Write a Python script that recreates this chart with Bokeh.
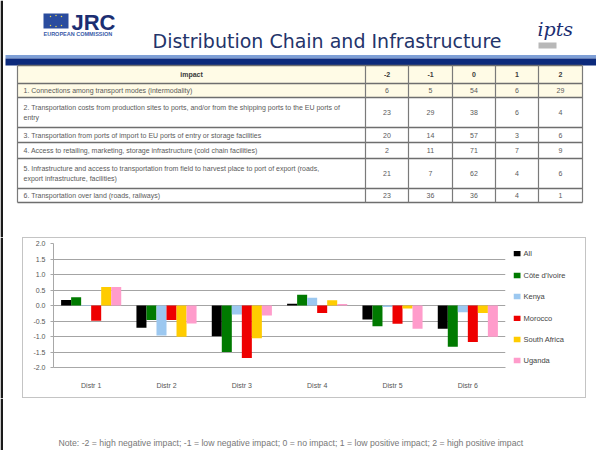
from bokeh.plotting import figure
from bokeh.models import (Range1d, FactorRange, ColumnDataSource, PrintfTickFormatter,
                          FixedTicker)
from bokeh.transform import dodge
from bokeh.layouts import column, row
from bokeh.embed import file_html
from bokeh.resources import INLINE
from bokeh.core.properties import value

# ---------------- data ----------------
slide_title = "Distribution Chain and Infrastructure"
org_name = "JRC"
org_sub = "EUROPEAN COMMISSION"

table_header = ["impact", "-2", "-1", "0", "1", "2"]
row_labels = [
    ["1. Connections among transport modes (intermodality)"],
    ["2. Transportation costs from production sites to ports, and/or from the shipping ports to the EU ports of",
     "entry"],
    ["3. Transportation from ports of import to EU ports of entry or storage facilities"],
    ["4. Access to retailing, marketing, storage infrastructure (cold chain facilities)"],
    ["5. Infrastructure and access to transportation from field to harvest place to port of export (roads,",
     "export infrastructure, facilities)"],
    ["6. Transportation over land (roads, railways)"],
]
row_values = [
    [6, 5, 54, 6, 29],
    [23, 29, 38, 6, 4],
    [20, 14, 57, 3, 6],
    [2, 11, 71, 7, 9],
    [21, 7, 62, 4, 6],
    [23, 36, 36, 4, 1],
]

categories = ["Distr 1", "Distr 2", "Distr 3", "Distr 4", "Distr 5", "Distr 6"]
series_names = ["All", "Côte d'Ivoire", "Kenya", "Morocco", "South Africa", "Uganda"]
all_vals = [0.18, -0.72, -0.99, 0.06, -0.45, -0.75]
civ_vals = [0.27, -0.47, -1.50, 0.35, -0.67, -1.33]
kenya_vals = [0.02, -0.97, -0.29, 0.25, -0.05, -0.22]
morocco_vals = [-0.49, -0.47, -1.69, -0.24, -0.59, -1.18]
safrica_vals = [0.60, -1.01, -1.06, 0.17, -0.10, -0.24]
uganda_vals = [0.60, -0.58, -0.32, 0.05, -0.75, -1.01]
y_ticks = [-2.0, -1.5, -1.0, -0.5, 0.0, 0.5, 1.0, 1.5, 2.0]

footnote = ("Note: -2 = high negative impact; -1 = low negative impact; 0 = no impact; "
            "1 = low positive impact; 2 = high positive impact")

# ---------------- styles ----------------
series_colors = ["#000000", "#007A00", "#9CC8F0", "#EE0000", "#FFCC00", "#FF9CCB"]
FONT = value("Liberation Sans")
NAVY = "#1B2E72"
EDGE = "#1A1A1A"
PAGE_W = 596


def blank(width, height, x0, y0, y1):
    p = figure(width=width, height=height, x_range=Range1d(x0, x0 + width),
               y_range=Range1d(y1, y0), toolbar_location=None, output_backend="svg",
               min_border=0, x_axis_location=None, y_axis_location=None)
    p.grid.visible = False
    p.outline_line_color = None
    return p


# ---------------- header + table (slide pixels) ----------------
top = blank(PAGE_W, 237, 0, 0, 237)
top.quad(left=[0], right=[2.5], top=[0], bottom=[237], fill_color=EDGE, line_color=None)

top.quad(left=[43], right=[68], top=[13], bottom=[28], fill_color="#2A4C9E", line_color=None)
top.scatter(x=[50, 55.5, 61, 50, 61, 55.5], y=[16, 15, 16, 25, 25, 26], size=1.5,
            color="#E8D44D", line_color=None)
top.text(x=[71], y=[22], text=[org_name], text_font=FONT, text_font_style="bold",
         text_font_size=value("22px"), text_color=NAVY, text_baseline="middle")
top.text(x=[43], y=[33.5], text=[org_sub], text_font=FONT, text_font_style="bold",
         text_font_size=value("5.5px"), text_color="#3A5AA8", text_baseline="middle")
top.text(x=[152], y=[40], text=[slide_title], text_font=value("DejaVu Sans"),
         text_font_size=value("19px"), text_color="#24346A", text_baseline="middle")
top.text(x=[537], y=[28], text=["ipts"], text_font=value("DejaVu Serif"),
         text_font_style="italic", text_font_size=value("19px"), text_color=NAVY,
         text_baseline="middle")
top.quad(left=[538], right=[556], top=[42], bottom=[48], fill_color="#9A9A9A",
         line_color=None, fill_alpha=0.7)

# blue band
top.quad(left=[5], right=[PAGE_W], top=[54.5], bottom=[58], fill_color="#7E9FD6", line_color=None)
top.quad(left=[5], right=[PAGE_W], top=[58], bottom=[65], fill_color="#0C2A7C", line_color=None)

col_edges = [17, 365, 408, 452, 495, 538, 582]
row_edges = [65, 83, 97, 127, 142, 158, 188, 202]

top.quad(left=[col_edges[0]], right=[col_edges[-1]], top=[row_edges[0]], bottom=[row_edges[2]],
         fill_color="#FFFBE6", line_color=None)
top.segment(x0=[col_edges[0]] * len(row_edges), x1=[col_edges[-1]] * len(row_edges),
            y0=row_edges, y1=row_edges, line_color="#6E6E6E", line_width=1.5)
top.segment(x0=col_edges, x1=col_edges, y0=[row_edges[0]] * len(col_edges),
            y1=[row_edges[-1]] * len(col_edges), line_color="#7A7A7A", line_width=1.2)

col_centers = [(col_edges[i] + col_edges[i + 1]) / 2 for i in range(len(col_edges) - 1)]
head_y = (row_edges[0] + row_edges[1]) / 2
top.text(x=[191] + col_centers[1:], y=[head_y] * 6, text=table_header, text_font=FONT,
         text_font_style="bold", text_font_size=value("7px"), text_color="#3A3A3A",
         text_align="center", text_baseline="middle")

lab_x, lab_y, lab_t, val_x, val_y, val_t = [], [], [], [], [], []
for i, lines in enumerate(row_labels):
    yc = (row_edges[i + 1] + row_edges[i + 2]) / 2
    n = len(lines)
    for j, ln in enumerate(lines):
        lab_x.append(23)
        lab_y.append(yc + (j - (n - 1) / 2) * 9.5)
        lab_t.append(ln)
    for k, v in enumerate(row_values[i]):
        val_x.append(col_centers[k + 1])
        val_y.append(yc)
        val_t.append(str(v))
top.text(x=lab_x, y=lab_y, text=lab_t, text_font=FONT, text_font_size=value("7px"),
         text_color="#5A5A5A", text_baseline="middle")
top.text(x=val_x, y=val_y, text=val_t, text_font=FONT, text_font_size=value("7px"),
         text_color="#5A5A5A", text_align="center", text_baseline="middle")

# ---------------- bar chart ----------------
src = ColumnDataSource(dict(cat=categories, s0=all_vals, s1=civ_vals, s2=kenya_vals,
                            s3=morocco_vals, s4=safrica_vals, s5=uganda_vals))

chart = figure(width=490, height=159, x_range=FactorRange(factors=categories),
               y_range=Range1d(-2, 2), toolbar_location=None, output_backend="svg",
               min_border_left=30, min_border_right=8, min_border_top=5, min_border_bottom=30)

bw = 0.133
for k in range(6):
    off = (k - 2.5) * bw
    chart.vbar(x=dodge("cat", off, range=chart.x_range), top="s%d" % k, bottom=0,
               width=bw, source=src, fill_color=series_colors[k], line_color=None)

chart.yaxis.ticker = FixedTicker(ticks=y_ticks)
chart.yaxis.formatter = PrintfTickFormatter(format="%.1f")
chart.ygrid.ticker = FixedTicker(ticks=y_ticks)
chart.ygrid.grid_line_color = "#A4A4A4"
chart.xgrid.grid_line_color = None
chart.outline_line_color = None

for ax in (chart.xaxis, chart.yaxis):
    ax.major_label_text_font = "Liberation Sans"
    ax.major_label_text_font_size = "7px"
    ax.major_label_text_color = "#555555"
    ax.axis_line_color = "#A8A8A8"
    ax.major_tick_line_color = "#A8A8A8"
    ax.minor_tick_line_color = None
chart.yaxis.major_tick_out = 3
chart.yaxis.major_tick_in = 0
chart.yaxis.major_label_standoff = 5
chart.xaxis.major_tick_line_color = None
chart.xaxis.major_label_standoff = 8

# colour key (legend) beside the chart, slide pixels
key = blank(72, 159, 513, 238, 397)
key_y = [251, 279, 306, 334, 361, 388]
key.quad(left=[513] * 6, right=[520] * 6, top=[y - 3.5 for y in key_y],
         bottom=[y + 3.5 for y in key_y], fill_color=series_colors, line_color=None)
key.text(x=[523] * 6, y=key_y, text=series_names, text_font=FONT,
         text_font_size=value("7.5px"), text_color="#444444", text_baseline="middle")

chart_box = row(chart, key, spacing=0, styles={"border": "1px solid #C4C4C4"})

edge_mid = blank(22, 161, 0, 237, 398)
edge_mid.quad(left=[0], right=[2.5], top=[237], bottom=[398], fill_color=EDGE, line_color=None)

middle = row(edge_mid, chart_box, spacing=0)

# ---------------- footer ----------------
foot = blank(PAGE_W, 52, 0, 398, 450)
foot.quad(left=[0], right=[2.5], top=[398], bottom=[450], fill_color=EDGE, line_color=None)
foot.text(x=[58], y=[442], text=[footnote], text_font=FONT, text_font_size=value("8.7px"),
          text_color="#777777", text_baseline="middle")

page = column(top, middle, foot, spacing=0)
open("out.html", "w").write(file_html(page, INLINE, title="Distribution Chain and Infrastructure"))
